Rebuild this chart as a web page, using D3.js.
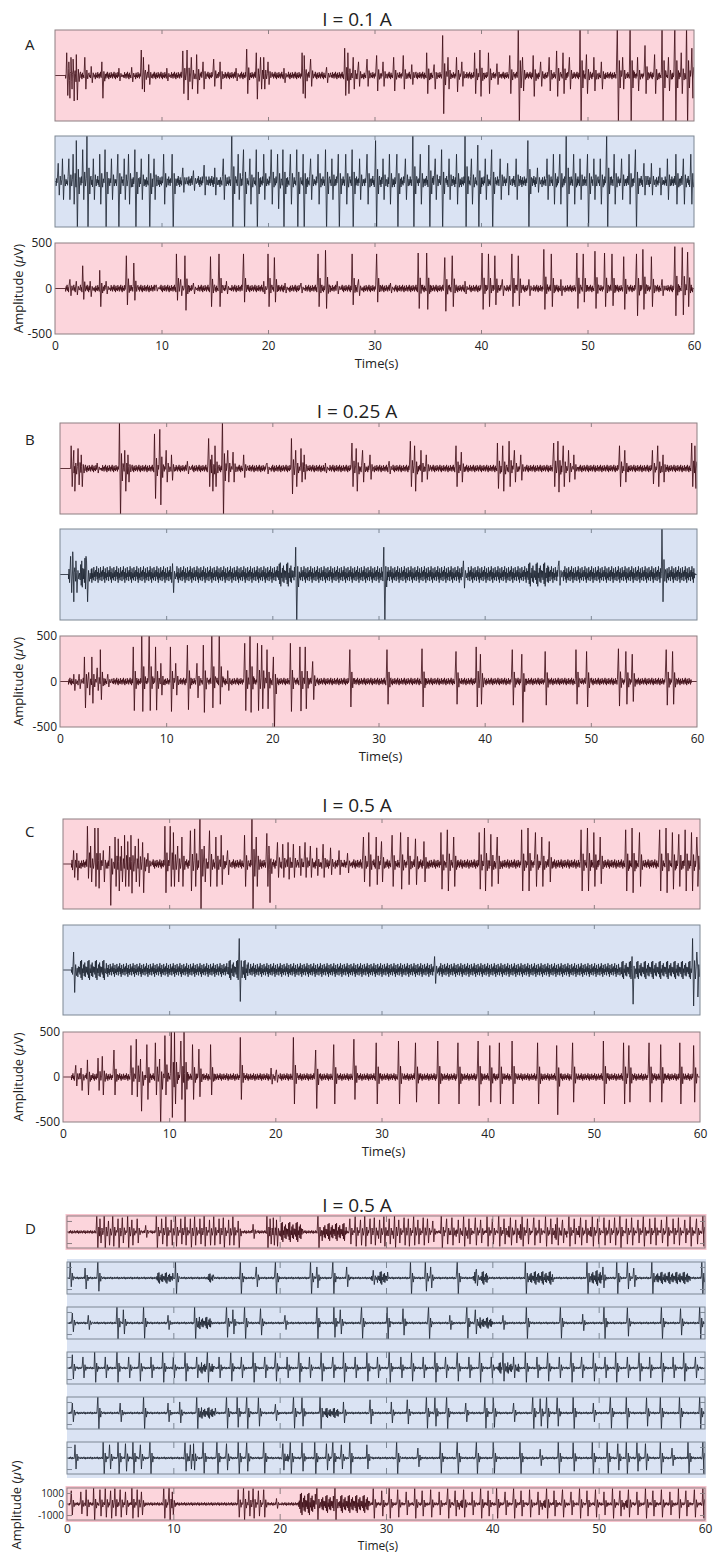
<!DOCTYPE html>
<html>
<head>
<meta charset="utf-8">
<script src="https://cdn.jsdelivr.net/npm/d3@7"></script>
<style>
  body { margin: 0; background: #fff; }
  svg { display: block; }
  text { font-family: "Open Sans", sans-serif; fill: #222; }
</style>
</head>
<body>
<div id="chart"></div>
<script>
// ---- data ----
const timeTicks = [0, 10, 20, 30, 40, 50, 60];
const ampTicks = [500, 0, -500];
const ampTicksD = [1000, 0, -1000];
const panelLabels = ["A", "B", "C", "D"];
const panelTitles = ["I = 0.1 A", "I = 0.25 A", "I = 0.5 A", "I = 0.5 A"];

// spikes: [time s, upward peak uV, downward peak uV]
const a1Spikes = [[1.1,250,220],[1.3,150,250],[1.5,200,150],[1.7,180,280],[2.0,230,270],[2.8,200,150],[3.4,100,80],[4.4,150,250],[6.0,80,60],[7.2,90,70],[8.1,280,150],[8.3,200,180],[8.8,120,100],[10.5,80,60],[12.0,270,200],[12.4,280,270],[12.8,200,150],[13.3,230,200],[13.9,150,150],[14.9,180,120],[15.5,150,150],[17.0,80,60],[18.0,290,200],[18.9,250,260],[19.3,200,150],[19.6,200,150],[20.0,150,100],[21.5,80,80],[23.2,250,200],[23.4,220,250],[24.0,180,120],[25.5,90,80],[27.2,300,220],[27.5,250,200],[28.0,200,150],[28.5,150,120],[29.3,180,120],[30.2,220,170],[30.8,150,120],[31.8,200,170],[32.7,220,150],[33.5,120,100],[34.9,250,200],[35.6,120,150],[36.4,440,420],[36.9,200,150],[37.7,200,180],[38.2,150,120],[39.4,250,200],[39.9,280,230],[40.7,250,200],[41.5,130,100],[42.7,220,200],[43.5,550,550],[43.9,200,170],[44.9,220,230],[45.6,150,120],[46.4,200,170],[47.1,270,230],[47.7,250,200],[48.3,200,150],[49.3,550,550],[49.9,230,200],[50.6,200,170],[51.3,150,150],[52.8,550,550],[53.3,200,150],[54.0,550,550],[54.7,200,170],[55.4,330,200],[56.3,230,200],[57.0,550,550],[57.6,200,170],[58.2,550,550],[58.8,250,200],[59.3,550,550],[59.8,300,250]];
const a2Spikes = [[0.3,200,150],[0.7,250,200],[1.3,250,200],[1.7,300,250],[2.0,450,550],[2.6,350,200],[3.0,500,550],[3.6,250,200],[4.2,300,250],[4.7,350,550],[5.3,250,200],[5.9,300,550],[6.5,250,200],[6.9,300,250],[7.5,350,550],[8.1,250,200],[8.8,300,550],[9.3,250,200],[10.2,300,250],[11.0,300,550],[12.0,150,120],[13.0,120,100],[14.0,180,150],[15.0,150,150],[15.8,250,200],[16.6,550,550],[17.2,300,200],[17.7,350,550],[18.3,250,250],[18.9,350,550],[19.6,300,200],[20.3,350,250],[20.9,300,300],[21.4,350,550],[22.1,300,250],[22.7,350,550],[23.3,300,550],[24.0,250,200],[24.7,300,250],[25.4,350,550],[26.0,250,200],[26.6,300,550],[27.3,300,250],[27.9,350,550],[28.6,250,200],[29.3,300,250],[30.1,450,550],[30.8,250,200],[31.4,300,250],[32.1,300,550],[32.9,250,200],[33.6,550,550],[34.3,300,250],[35.1,400,550],[35.7,250,200],[36.3,350,550],[37.0,250,200],[37.7,300,250],[38.5,550,550],[39.1,250,250],[39.7,400,550],[40.4,250,200],[41.0,350,550],[41.8,250,200],[42.5,200,150],[43.3,250,200],[44.4,450,550],[45.3,150,120],[46.2,250,200],[46.8,300,250],[47.4,300,250],[48.0,500,550],[48.7,300,250],[49.3,250,200],[50.0,300,550],[50.6,250,200],[51.2,250,250],[51.8,500,550],[52.5,300,250],[53.2,250,200],[53.9,300,250],[54.5,350,550],[55.3,200,150],[56.0,200,150],[56.8,150,150],[57.5,250,200],[58.3,300,250],[59.0,250,250],[59.7,300,250]];
const a3Spikes = [[1.4,100,80],[2.0,80,70],[2.6,250,120],[3.3,80,90],[4.2,200,200],[4.8,80,60],[6.7,360,180],[7.4,280,130],[9.5,40,30],[11.4,380,130],[11.8,100,80],[12.2,360,240],[13.0,60,60],[14.6,350,200],[15.4,380,200],[16.1,80,60],[17.7,380,150],[19.6,80,60],[20.0,380,200],[20.6,340,150],[21.6,60,50],[23.1,60,50],[24.7,380,200],[25.4,420,220],[26.5,80,60],[27.9,380,180],[28.5,100,80],[30.2,380,150],[31.5,60,50],[34.1,390,220],[34.9,390,230],[36.6,340,250],[37.3,360,200],[38.5,80,60],[40.1,390,230],[40.7,380,200],[41.3,360,180],[42.0,100,80],[42.9,380,200],[43.5,360,190],[44.5,100,80],[45.9,430,230],[46.6,380,200],[47.5,100,80],[49.0,390,220],[49.6,380,150],[50.7,410,220],[51.6,390,200],[52.3,380,190],[53.4,350,230],[54.6,380,300],[55.2,430,230],[56.0,350,200],[57.0,100,80],[58.2,460,300],[58.9,450,290],[59.4,400,200]];

const b1Spikes = [[1.05,250,200],[1.3,200,250],[1.7,220,180],[2.0,150,200],[3.5,60,50],[5.6,550,550],[6.1,200,250],[6.4,150,150],[8.9,380,330],[9.4,430,400],[10.0,200,150],[10.5,150,130],[12.0,80,60],[14.0,330,200],[14.3,150,250],[14.6,250,200],[15.3,550,550],[15.8,200,150],[16.3,180,150],[17.3,150,100],[19.5,60,60],[21.8,330,280],[22.2,200,200],[22.7,220,150],[23.0,150,120],[25.0,60,50],[27.5,280,200],[27.9,220,250],[28.5,200,150],[29.2,150,120],[31.0,80,60],[33.0,300,200],[33.4,250,250],[34.0,200,150],[34.5,150,120],[37.3,250,200],[37.8,180,150],[41.2,280,220],[41.7,250,250],[42.3,300,200],[42.8,200,150],[43.4,150,130],[46.5,280,200],[46.9,300,260],[47.4,250,200],[47.9,200,150],[48.4,150,120],[52.7,250,200],[53.2,200,150],[55.8,200,170],[56.3,250,200],[56.8,150,150],[59.5,280,200],[59.8,250,220]];
const b2Spikes = [[1.0,200,200],[1.2,250,300],[1.5,150,200],[2.5,150,300],[10.6,120,200],[22.2,300,550],[30.5,300,550],[38.0,150,150],[47.0,150,120],[56.7,550,300]];
const b3Spikes = [[1.3,80,100],[1.8,80,80],[2.3,270,290],[2.7,100,150],[3.0,270,240],[3.5,150,100],[3.8,350,200],[4.5,80,60],[6.9,380,320],[7.7,550,330],[8.4,550,320],[9.0,380,315],[9.5,200,150],[10.4,380,330],[10.9,200,150],[12.0,400,310],[12.9,200,180],[13.5,400,340],[14.3,550,290],[15.0,550,250],[15.8,120,100],[17.4,420,320],[17.9,550,340],[18.6,420,320],[19.0,400,300],[19.5,350,300],[20.1,270,550],[21.7,420,330],[22.6,380,325],[23.1,380,300],[23.8,220,200],[27.3,350,280],[30.8,350,250],[34.1,360,280],[37.3,330,250],[39.2,380,280],[39.6,300,250],[42.6,350,260],[43.5,300,450],[45.7,330,260],[48.6,350,250],[49.6,330,280],[52.6,360,270],[53.3,330,250],[53.9,300,220],[57.1,350,260],[57.7,330,250]];

const c1Spikes = [[1.0,150,150],[1.3,120,180],[2.3,420,160],[2.6,200,200],[3.0,400,250],[3.3,400,270],[3.8,150,200],[4.4,200,460],[4.9,300,250],[5.2,280,300],[5.5,200,200],[5.8,320,250],[6.1,250,250],[6.4,320,325],[6.8,200,200],[7.1,280,250],[7.5,240,320],[8.0,120,100],[9.6,420,320],[10.1,420,250],[10.4,350,250],[10.8,200,200],[11.2,300,250],[12.0,370,300],[12.4,390,250],[12.9,550,550],[13.3,200,200],[13.8,370,250],[14.4,300,250],[14.9,320,230],[15.5,150,120],[17.1,320,250],[17.8,550,550],[18.2,300,250],[19.2,340,250],[19.4,200,430],[20.2,240,150],[20.7,220,150],[21.2,240,170],[21.7,220,150],[22.3,200,130],[22.8,240,150],[23.3,200,150],[23.9,180,130],[24.5,220,150],[25.2,180,120],[26.0,150,120],[26.8,120,100],[28.3,300,200],[28.8,350,250],[29.5,300,230],[30.0,250,200],[31.0,320,250],[31.8,350,280],[32.5,300,230],[33.2,280,230],[34.0,250,200],[35.6,350,280],[36.2,380,300],[36.8,300,250],[39.2,350,280],[39.7,400,300],[40.3,330,250],[40.9,300,220],[43.2,380,300],[43.8,400,300],[44.5,350,250],[45.1,300,250],[45.8,250,200],[48.8,380,300],[49.4,400,300],[50.0,350,250],[50.6,300,220],[53.0,380,300],[53.6,400,320],[54.3,350,250],[56.2,380,300],[56.8,400,320],[57.4,350,280],[58.0,330,250],[58.6,380,300],[59.2,350,300],[59.7,300,250]];
const c2Spikes = [[1.0,200,250],[16.6,350,350],[35.0,150,150],[53.6,150,380],[59.3,350,400],[59.7,200,300]];
const c3Spikes = [[1.2,130,100],[1.7,100,150],[2.3,190,200],[3.3,210,150],[3.7,230,200],[4.8,300,200],[6.4,350,200],[6.9,420,220],[7.3,200,380],[7.9,360,250],[8.7,380,200],[9.1,200,550],[9.6,460,200],[10.2,550,450],[10.5,550,300],[11.1,400,250],[11.4,550,550],[12.2,360,250],[12.8,310,220],[13.9,360,200],[16.7,440,250],[19.6,100,80],[20.1,80,60],[21.7,440,300],[23.8,300,350],[25.5,360,300],[27.4,420,250],[29.5,380,300],[31.6,400,300],[33.2,380,280],[35.3,400,300],[37.2,380,300],[39.1,400,320],[40.2,350,280],[41.1,380,300],[42.3,400,300],[44.7,380,300],[46.5,350,420],[48.0,380,280],[50.9,400,300],[52.8,380,300],[53.3,350,280],[55.2,380,280],[56.3,360,280],[58.1,380,300],[59.4,350,280]];

const d1Spikes = [[2.8,1500,1500],[3.1,1200,1000],[3.5,1500,1500],[3.9,1000,1200],[4.3,1500,1300],[4.8,1200,1500],[5.2,1300,1000],[5.7,1500,1500],[6.1,1100,1200],[6.6,1200,1000],[7.4,600,500],[8.4,1500,1500],[8.9,1200,1100],[9.3,1400,1300],[9.8,1100,1200],[10.2,1500,1300],[10.7,1200,1100],[11.1,1400,1200],[11.6,1200,1400],[12.0,1400,1200],[12.5,1200,1100],[12.9,1500,1300],[13.4,1100,1200],[13.8,1400,1200],[14.3,1200,1100],[14.7,1300,1400],[15.2,1100,1200],[15.6,1400,1200],[16.1,1000,1500],[17.5,700,600],[18.8,1500,1500],[19.1,1200,1100],[19.4,1300,1200],[19.7,1100,1300],[23.6,1500,1500],[26.6,1200,1100],[27.1,1400,1300],[27.6,1100,1200],[28.0,1500,1300],[28.5,1200,1100],[28.9,1300,1200],[29.4,1100,1000],[29.8,1400,1300],[30.3,1200,1100],[30.8,1500,1400],[31.2,1100,1000],[31.7,1300,1200],[32.1,1200,1300],[32.6,1400,1200],[33.0,1100,1100],[33.5,1300,1200],[33.9,1200,1000],[34.4,1000,900],[35.2,1500,1500],[35.7,1200,1100],[36.2,1300,1200],[36.8,1100,1000],[37.3,1400,1300],[37.8,1200,1100],[38.4,1300,1200],[38.9,1100,1000],[39.5,1400,1300],[40.0,1200,1100],[40.6,1500,1300],[41.1,1200,1100],[41.7,1300,1200],[42.2,1100,1000],[42.8,1400,1300],[43.3,1200,1100],[43.9,1300,1200],[44.4,1100,1000],[45.0,1400,1300],[45.5,1200,1100],[46.1,1300,1200],[46.6,1100,1000],[47.2,1400,1300],[47.7,1200,1100],[48.3,1300,1200],[48.8,1100,1000],[49.4,1400,1300],[49.9,1200,1100],[50.5,1300,1200],[51.0,1100,1000],[51.5,1300,1200],[52.0,1500,1500],[52.6,1200,1100],[53.1,1300,1200],[53.7,1100,1000],[54.2,1400,1300],[54.8,1200,1100],[55.3,1300,1200],[55.9,1100,1000],[56.4,1400,1300],[57.0,1200,1100],[57.5,1300,1200],[58.1,1100,1000],[58.6,1400,1300],[59.2,1200,1100],[59.8,1500,1300]];
const d2Spikes = [[0.3,1500,800],[1.7,900,1000],[2.9,1500,1200],[10.2,1500,1500],[16.3,1500,1500],[17.8,1000,800],[19.6,1500,1500],[22.9,1500,1500],[23.5,1000,900],[25.0,1500,1500],[26.3,1000,800],[28.8,700,600],[32.3,1500,1500],[33.7,1500,1200],[34.2,1000,900],[36.7,1500,1500],[38.5,800,700],[43.1,1500,1500],[48.9,1500,1500],[50.4,1000,900],[51.7,1500,1500],[52.7,1500,1000],[53.3,900,800],[55.0,1500,1500],[59.7,1500,1500]];
const d3Spikes = [[0.5,900,800],[2.0,700,600],[4.7,1500,1500],[5.3,1200,1000],[7.2,1500,1400],[9.5,700,600],[12.0,1500,1500],[15.0,1500,1300],[15.6,1200,1000],[16.7,1500,1500],[18.2,1300,1100],[20.5,700,600],[23.5,1500,1500],[25.1,1500,1300],[25.7,1200,1000],[27.7,1500,1400],[30.1,1500,1500],[31.6,1300,1100],[34.0,1500,1500],[36.0,700,600],[37.6,1500,1400],[38.4,1200,1000],[41.0,700,600],[43.2,1500,1500],[46.4,1500,1400],[48.5,800,700],[50.5,1500,1500],[52.7,1400,1200],[55.9,1500,1500],[57.7,1300,1100],[59.5,1500,1500]];
const d4Spikes = [[0.5,1200,1000],[1.5,1000,900],[2.6,1500,1300],[3.6,1000,900],[4.7,1500,1300],[5.8,1000,900],[6.8,1400,1200],[7.9,1000,900],[9.0,1500,1300],[10.0,1000,900],[11.1,1400,1200],[12.2,1000,900],[13.2,1500,1300],[14.3,1000,900],[15.4,1400,1200],[16.4,1000,900],[17.5,1500,1300],[18.6,1000,900],[19.6,1400,1200],[20.7,1000,900],[21.8,1500,1300],[22.8,1000,900],[23.9,1400,1200],[25.0,1000,900],[26.0,1500,1300],[27.1,1000,900],[28.2,1400,1200],[29.2,1000,900],[30.3,1500,1300],[31.4,1000,900],[32.4,1400,1200],[33.5,1000,900],[34.6,1500,1300],[35.6,1000,900],[36.7,1400,1200],[37.8,1000,900],[38.8,1500,1300],[39.9,1000,900],[41.0,1400,1200],[42.0,1000,900],[43.1,1500,1300],[44.2,1000,900],[45.2,1400,1200],[46.3,1000,900],[47.4,1500,1300],[48.4,1000,900],[49.5,1400,1200],[50.6,1000,900],[51.6,1500,1300],[52.7,1000,900],[53.8,1400,1200],[54.8,1000,900],[55.9,1500,1300],[57.0,1000,900],[58.0,1400,1200],[59.1,1000,900]];
const d5Spikes = [[0.5,900,800],[2.9,1500,1500],[5.0,900,800],[7.2,1500,1500],[9.5,900,800],[10.6,1000,900],[12.2,1500,1500],[15.0,1500,1400],[16.0,1500,1300],[16.9,1500,1500],[18.0,1400,1200],[19.6,800,700],[21.3,1500,1400],[22.1,1400,1200],[23.8,1500,1500],[26.0,1000,900],[28.5,1200,1000],[30.5,1000,900],[32.0,1200,1000],[33.8,1500,1400],[34.6,1400,1200],[35.7,1500,1500],[37.5,900,800],[39.3,1500,1400],[40.1,1400,1300],[42.0,900,800],[43.8,1500,1500],[44.5,1300,1200],[45.1,1500,1400],[46.1,1400,1200],[47.6,1500,1500],[49.5,900,800],[51.1,1500,1400],[52.6,1500,1500],[54.5,1400,1200],[55.8,1500,1500],[57.6,1500,1400],[59.5,1500,1500]];
const d6Spikes = [[0.75,1200,1000],[3.4,1500,1500],[4.0,1200,1000],[4.8,1500,1500],[5.5,1300,1200],[6.2,1500,1400],[6.9,1200,1000],[7.8,1500,1500],[11.1,1400,1200],[11.6,1200,1000],[11.9,1300,1100],[12.8,1500,1400],[14.1,1500,1500],[15.0,1300,1100],[16.1,1500,1500],[16.9,1400,1200],[18.5,1500,1400],[20.3,1300,1100],[21.0,1500,1500],[22.1,1400,1200],[23.3,1500,1500],[24.4,1300,1100],[25.0,1500,1400],[25.8,1200,1000],[26.6,1500,1500],[28.2,1200,1000],[31.0,1500,1500],[33.0,900,800],[35.1,1500,1400],[36.7,1500,1500],[38.5,1500,1500],[40.1,1500,1400],[42.6,1500,1500],[44.5,800,700],[46.2,1500,1400],[47.6,1400,1200],[49.4,1500,1500],[50.8,1500,1400],[51.8,1300,1100],[52.6,1500,1500],[53.6,1400,1200],[54.4,1300,1100],[55.8,1500,1500],[56.9,900,700],[58.4,1500,1400],[59.8,1500,1500]];
const d7Spikes = [[0.4,1200,1000],[1.3,1100,900],[1.8,1300,1100],[2.5,1500,1500],[3.1,1300,1100],[3.6,1400,1200],[4.1,1200,1300],[4.5,1400,1100],[5.0,1300,1200],[5.5,1100,1000],[6.1,1500,1300],[6.6,1300,1200],[7.0,1100,1000],[9.1,1400,1300],[9.6,1500,1500],[9.9,1100,1000],[16.1,1300,1200],[16.6,1500,1500],[17.1,1200,1100],[17.5,1400,1300],[18.0,1200,1100],[18.5,1300,1200],[19.7,500,400],[23.5,1500,1500],[25.2,1500,1500],[28.8,1400,1300],[29.6,1200,1100],[30.3,1500,1300],[31.1,1300,1200],[31.9,1100,1000],[32.7,1400,1300],[33.4,1200,1100],[34.2,1300,1200],[35.0,1100,1000],[35.8,1400,1300],[36.5,1200,1100],[37.3,1300,1200],[38.1,1100,1000],[38.9,1400,1300],[39.6,1200,1100],[40.4,1500,1300],[41.2,1100,1000],[42.0,1400,1300],[42.7,1200,1100],[43.5,1300,1200],[44.3,1100,1000],[45.1,1400,1300],[45.8,1200,1100],[46.6,1300,1200],[47.4,1100,1000],[48.2,1400,1300],[48.9,1200,1100],[49.7,1300,1200],[50.5,1100,1000],[51.3,1400,1300],[52.0,1200,1100],[52.8,1300,1200],[53.6,1100,1000],[54.4,1400,1300],[55.1,1200,1100],[55.9,1300,1200],[56.7,1100,1000],[57.5,1400,1300],[58.2,1200,1100],[59.0,1300,1200],[59.8,1400,1300]];

// bursts: [start s, end s, envelope uV]
const a1Bursts = [], a2Bursts = [], a3Bursts = [];
const b1Bursts = [], b2Bursts = [[0.8,3.0,200],[20.5,22.0,130],[44.0,46.0,130]], b3Bursts = [];
const c1Bursts = [[0.8,1.6,150]], c2Bursts = [[0.8,4.0,110],[15.5,17.5,110],[52.5,59.8,100]], c3Bursts = [];
const d1Bursts = [[20.0,22.2,900],[23.7,26.3,800],[29.0,31.0,600],[36.0,38.0,600],[41.0,43.0,700],[45.0,47.0,700],[48.0,49.5,600]];
const d2Bursts = [[8.4,10.0,500],[13.2,13.8,400],[28.6,30.2,600],[38.2,39.6,600],[43.1,45.7,600],[48.9,50.4,700],[55.0,58.6,550]];
const d3Bursts = [[12.2,13.6,550],[38.6,40.0,500]];
const d4Bursts = [[12.4,13.9,500],[40.5,42.5,500]];
const d5Bursts = [[12.4,14.0,500],[24.2,25.6,450]];
const d6Bursts = [[11.0,12.0,450],[20.2,21.0,450]];
const d7Bursts = [[21.8,23.4,1000],[23.5,28.5,800],[36.6,37.2,500],[44.4,45.0,500],[52.1,52.7,500]];

// ---- layout ----
const W = 714, H = 1553;
const svg = d3.select("#chart").append("svg").attr("width", W).attr("height", H);

const panels = [
  { x0: 55, x1: 694, tops: [30, 136, 243], h: 91, titleY: 26, labelY: 50, dom: 500 },
  { x0: 60, x1: 697, tops: [423, 529, 636], h: 91, titleY: 418, labelY: 445, dom: 500 },
  { x0: 63, x1: 700, tops: [819, 925, 1032], h: 90, titleY: 812, labelY: 837, dom: 500 },
  { x0: 67, x1: 705, tops: [1216, 1262, 1307, 1352, 1397, 1442, 1488], h: 32, titleY: 1212, labelY: 1234, dom: 1450 }
];

const pink = "#fcd5dc", blue = "#dae3f3";
const pinkLine = "#3a0911", blueLine = "#1a222e";

const traces = [
  { p: 0, r: 0, c: "p", start: 1.0, end: 59.9, noise: 40, spikes: a1Spikes, bursts: a1Bursts },
  { p: 0, r: 1, c: "b", start: 0.1, end: 59.9, noise: 60, spikes: a2Spikes, bursts: a2Bursts },
  { p: 0, r: 2, c: "p", start: 1.0, end: 59.9, noise: 40, spikes: a3Spikes, bursts: a3Bursts },
  { p: 1, r: 0, c: "p", start: 1.0, end: 59.9, noise: 40, spikes: b1Spikes, bursts: b1Bursts },
  { p: 1, r: 1, c: "b", start: 0.8, end: 59.8, noise: 90, spikes: b2Spikes, bursts: b2Bursts },
  { p: 1, r: 2, c: "p", start: 0.8, end: 59.5, noise: 40, spikes: b3Spikes, bursts: b3Bursts },
  { p: 2, r: 0, c: "p", start: 0.8, end: 59.8, noise: 50, spikes: c1Spikes, bursts: c1Bursts },
  { p: 2, r: 1, c: "b", start: 0.8, end: 59.8, noise: 75, spikes: c2Spikes, bursts: c2Bursts },
  { p: 2, r: 2, c: "p", start: 0.8, end: 59.8, noise: 40, spikes: c3Spikes, bursts: c3Bursts },
  { p: 3, r: 0, c: "p", start: 0.2, end: 59.9, noise: 150, spikes: d1Spikes, bursts: d1Bursts },
  { p: 3, r: 1, c: "b", start: 0.2, end: 59.9, noise: 110, spikes: d2Spikes, bursts: d2Bursts },
  { p: 3, r: 2, c: "b", start: 0.2, end: 59.9, noise: 110, spikes: d3Spikes, bursts: d3Bursts },
  { p: 3, r: 3, c: "b", start: 0.2, end: 59.9, noise: 110, spikes: d4Spikes, bursts: d4Bursts },
  { p: 3, r: 4, c: "b", start: 0.2, end: 59.9, noise: 110, spikes: d5Spikes, bursts: d5Bursts },
  { p: 3, r: 5, c: "b", start: 0.2, end: 59.9, noise: 110, spikes: d6Spikes, bursts: d6Bursts },
  { p: 3, r: 6, c: "p", start: 0.2, end: 59.9, noise: 150, spikes: d7Spikes, bursts: d7Bursts }
];

// texture multipliers for the dense noise band (visual texture only)
const jitter = [0.35, -0.8, 0.55, -0.25, 1, -0.6, 0.3, -1, 0.75, -0.45, 0.15, -0.7, 0.9, -0.3];

function tracePoints(tr) {
  const pts = [[0, 0], [tr.start, 0]];
  const busy = tr.spikes.map(s => [s[0] - 0.05, s[0] + 0.36]);
  const inSpike = t => busy.some(b => t >= b[0] && t <= b[1]);
  const inBurst = t => tr.bursts.some(b => t >= b[0] && t <= b[1]);
  let k = 0;
  for (let t = tr.start; t < tr.end; t += 0.045) {
    k++;
    if (inSpike(t) || inBurst(t)) continue;
    pts.push([t, tr.noise * jitter[k % jitter.length]]);
  }
  tr.bursts.forEach(([t0, t1, a]) => {
    let j = 0;
    for (let t = t0; t < t1; t += 0.05) {
      j++;
      if (inSpike(t)) continue;
      pts.push([t, a * jitter[(j * 3) % jitter.length]]);
    }
  });
  tr.spikes.forEach(([t, u, d]) => {
    pts.push([t, u], [t + 0.1, -d], [t + 0.19, u * 0.3], [t + 0.27, -d * 0.25], [t + 0.34, u * 0.1]);
  });
  pts.push([tr.end, 0], [60, 0]);
  pts.sort((a, b) => a[0] - b[0]);
  return pts;
}

const defs = svg.append("defs");
const fmt = d => String(d);

// blue band behind the D panel's middle rows
svg.append("rect")
  .attr("x", panels[3].x0).attr("y", 1259)
  .attr("width", panels[3].x1 - panels[3].x0 + 1).attr("height", 219)
  .attr("fill", blue);

panels.forEach((P, pi) => {
  const x = d3.scaleLinear().domain([0, 60]).range([P.x0, P.x1]);

  svg.append("text")
    .attr("x", 357).attr("y", P.titleY)
    .attr("text-anchor", "middle")
    .style("font-size", "19px")
    .text(panelTitles[pi]);

  svg.append("text")
    .attr("x", 25).attr("y", P.labelY)
    .style("font-size", "15px")
    .text(panelLabels[pi]);

  P.tops.forEach((top, ri) => {
    const tr = traces.find(t => t.p === pi && t.r === ri);
    const isPink = tr.c === "p";
    const y = d3.scaleLinear().domain([-P.dom, P.dom]).range([top + P.h, top]);
    const g = svg.append("g");

    if (pi === 3 && isPink) {
      g.append("rect")
        .attr("x", P.x0 - 1.5).attr("y", top - 2)
        .attr("width", P.x1 - P.x0 + 3).attr("height", P.h + 4)
        .attr("fill", "#f7c3cd");
    }
    g.append("rect")
      .attr("x", P.x0).attr("y", top)
      .attr("width", P.x1 - P.x0).attr("height", P.h)
      .attr("fill", isPink ? pink : blue);

    const cid = `clip${pi}_${ri}`;
    defs.append("clipPath").attr("id", cid)
      .append("rect")
      .attr("x", P.x0).attr("y", top)
      .attr("width", P.x1 - P.x0).attr("height", P.h);

    const line = d3.line().x(d => x(d[0])).y(d => y(d[1]));
    g.append("path")
      .attr("d", line(tracePoints(tr)))
      .attr("clip-path", `url(#${cid})`)
      .attr("fill", "none")
      .attr("stroke", isPink ? pinkLine : blueLine)
      .attr("stroke-width", 0.8)
      .attr("stroke-linejoin", "round");

    // inner time ticks on top and bottom edges
    const tl = pi === 3 ? 6 : 4;
    const frameCol = isPink ? "#8d7f82" : "#7d8794";
    g.append("g")
      .attr("transform", `translate(0,${top + P.h})`)
      .call(d3.axisTop(x).tickValues(timeTicks.slice(1, -1)).tickSize(tl).tickFormat(""))
      .call(a => a.select(".domain").remove())
      .call(a => a.selectAll("line").attr("stroke", frameCol));
    g.append("g")
      .attr("transform", `translate(0,${top})`)
      .call(d3.axisBottom(x).tickValues(timeTicks.slice(1, -1)).tickSize(tl).tickFormat(""))
      .call(a => a.select(".domain").remove())
      .call(a => a.selectAll("line").attr("stroke", frameCol));

    if (pi === 3) {
      [d3.axisRight(y), d3.axisLeft(y)].forEach((ax, k) => {
        g.append("g")
          .attr("transform", `translate(${k === 0 ? P.x0 : P.x1},0)`)
          .call(ax.tickValues([1000, -1000]).tickSize(5).tickFormat(""))
          .call(a => a.select(".domain").remove())
          .call(a => a.selectAll("line").attr("stroke", frameCol));
      });
    }

    g.append("rect")
      .attr("x", P.x0).attr("y", top)
      .attr("width", P.x1 - P.x0).attr("height", P.h)
      .attr("fill", "none")
      .attr("stroke", frameCol)
      .attr("stroke-width", 1);

    // the last row carries the axes
    if (ri === P.tops.length - 1) {
      const xa = svg.append("g")
        .attr("transform", `translate(0,${top + P.h})`)
        .call(d3.axisBottom(x).tickValues(timeTicks).tickSize(0).tickPadding(pi === 3 ? 4 : 7).tickFormat(fmt));
      xa.select(".domain").remove();
      xa.selectAll("text").style("font-size", "12px").style("font-family", "Open Sans").attr("fill", "#333");

      const ya = svg.append("g")
        .attr("transform", `translate(${P.x0},0)`)
        .call(d3.axisLeft(y).tickValues(pi === 3 ? ampTicksD : ampTicks).tickSize(0).tickPadding(3).tickFormat(fmt));
      ya.select(".domain").remove();
      ya.selectAll("text").style("font-size", pi === 3 ? "10px" : "12px").style("font-family", "Open Sans").attr("fill", "#333");

      svg.append("text")
        .attr("x", (P.x0 + P.x1) / 2 - (pi === 3 ? 8 : -2))
        .attr("y", pi === 3 ? 1549.5 : top + P.h + 34)
        .attr("text-anchor", "middle")
        .style("font-size", pi === 3 ? "12px" : "13px")
        .text("Time(s)");

      const ly = pi === 3 ? 1505 : top + P.h / 2;
      const lab = svg.append("text")
        .attr("transform", `translate(${pi === 3 ? 21 : 23},${ly}) rotate(-90)`)
        .attr("text-anchor", "middle")
        .style("font-size", "13px");
      lab.append("tspan").text("Amplitude (");
      lab.append("tspan").style("font-style", "italic").text("\u03bc");
      lab.append("tspan").text("V)");
    }
  });
});
</script>
</body>
</html>
